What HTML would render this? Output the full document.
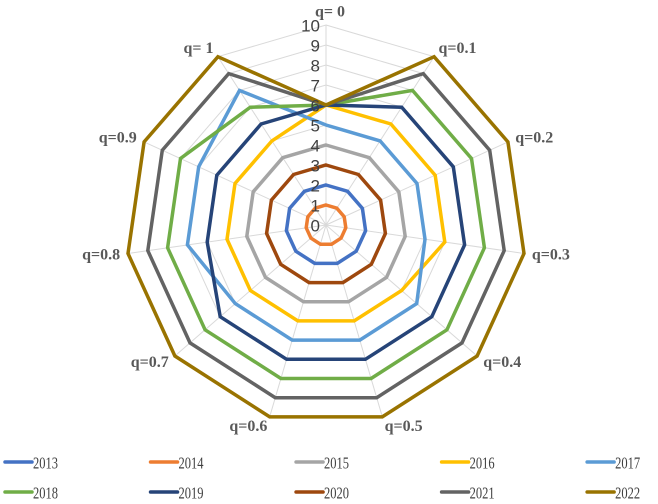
<!DOCTYPE html>
<html><head><meta charset="utf-8"><style>
body{margin:0;background:#fff;width:658px;height:504px;overflow:hidden}
svg{display:block}
.ax{font-family:"Liberation Serif",serif;font-weight:bold;font-size:16px;fill:#595959}
.tk{font-family:"Liberation Sans",sans-serif;font-size:17px;fill:#404040}
.lg{font-family:"Liberation Serif",serif;font-size:17px;fill:#404040}
</style></head><body>
<svg id="chart" width="658" height="504"></svg>
<script>
const categories=["q= 0","q=0.1","q=0.2","q=0.3","q=0.4","q=0.5","q=0.6","q=0.7","q=0.8","q=0.9","q= 1"];
const seriesNames=["2013","2014","2015","2016","2017","2018","2019","2020","2021","2022"];
const s2013=[2,2,2,2,2,2,2,2,2,2,2];
const s2014=[1,1,1,1,1,1,1,1,1,1,1];
const s2015=[4,4,4,4,4,4,4,4,4,4,4];
const s2016=[6,6,6,6,5,5,5,5,5,5,5];
const s2017=[5,5,5,5,6,6,6,6,7,7,8];
const s2018=[6,8,8,8,8,8,8,8,8,8,7];
const s2019=[6,7,7,7,7,7,7,7,6,6,6];
const s2020=[3,3,3,3,3,3,3,3,3,3,3];
const s2021=[6,9,9,9,9,9,9,9,9,9,9];
const s2022=[6,10,10,10,10,10,10,10,10,10,10];
const tickLabels=["0","1","2","3","4","5","6","7","8","9","10"];
const seriesValues=[s2013,s2014,s2015,s2016,s2017,s2018,s2019,s2020,s2021,s2022];
const colors=["#4472C4","#ED7D31","#A5A5A5","#FFC000","#5B9BD5","#70AD47","#264478","#9E480E","#636363","#997300"];
const NS="http://www.w3.org/2000/svg";
const svg=document.getElementById('chart');
const cx=326,cy=225,R=200,maxV=10,n=categories.length;
function ang(i){return 2*Math.PI*i/n;}
function px(i,v){return cx+Math.sin(ang(i))*v/maxV*R;}
function py(i,v){return cy-Math.cos(ang(i))*v/maxV*R;}
function mk(t,a){const e=document.createElementNS(NS,t);for(const k in a)e.setAttribute(k,a[k]);svg.appendChild(e);return e;}
for(let t=1;t<tickLabels.length;t++){
  const v=+tickLabels[t];
  const pts=categories.map((c,i)=>px(i,v).toFixed(1)+','+py(i,v).toFixed(1)).join(' ');
  const e=mk('polygon',{points:pts,fill:'none',stroke:'#d9d9d9','stroke-width':1});
  
  
}
categories.forEach((c,i)=>{
  const e=mk('line',{x1:cx,y1:cy,x2:px(i,maxV),y2:py(i,maxV),stroke:'#d9d9d9','stroke-width':1});
  
  
});
seriesValues.forEach((vals,s)=>{
  const pts=vals.map((v,i)=>px(i,v).toFixed(1)+','+py(i,v).toFixed(1)).join(' ');
  const e=mk('polygon',{points:pts,fill:'none',stroke:colors[s],'stroke-width':3.5,'stroke-linejoin':'miter'});
  
  
});
tickLabels.forEach((t,k)=>{
  const e=mk('text',{x:320,y:cy-(+t)/maxV*R+1,'text-anchor':'end','dominant-baseline':'central',class:'tk'});
  e.textContent=t;
  
  
});
categories.forEach((c,i)=>{
  const s=Math.sin(ang(i)),co=Math.cos(ang(i));
  const x=cx+s*208,y=cy-co*210-(i===0?3:0);
  const anchor=s>0.1?'start':(s<-0.1?'end':'middle');
  const e=mk('text',{x:i===0?x+4:x,y:y,'text-anchor':anchor,'dominant-baseline':'central',class:'ax'});
  e.textContent=c;
  
  
});
seriesNames.forEach((nm,s)=>{
  const col=s%5,row=Math.floor(s/5);
  const x=4+col*115.5*1.26,y=462+row*30;
  const g=document.createElementNS(NS,'g');svg.appendChild(g);
  
  
  const l=document.createElementNS(NS,'line');
  l.setAttribute('x1',x+1);l.setAttribute('x2',x+28);l.setAttribute('y1',y);l.setAttribute('y2',y);
  l.setAttribute('stroke',colors[s]);l.setAttribute('stroke-width',3.5);l.setAttribute('stroke-linecap','round');
  g.appendChild(l);
  const t=document.createElementNS(NS,'text');
  t.setAttribute('x',x+29);t.setAttribute('y',y+1);t.setAttribute('dominant-baseline','central');t.setAttribute('class','lg');
  t.setAttribute('textLength','25');t.setAttribute('lengthAdjust','spacingAndGlyphs');
  t.textContent=nm;g.appendChild(t);
});
</script>
</body></html>
